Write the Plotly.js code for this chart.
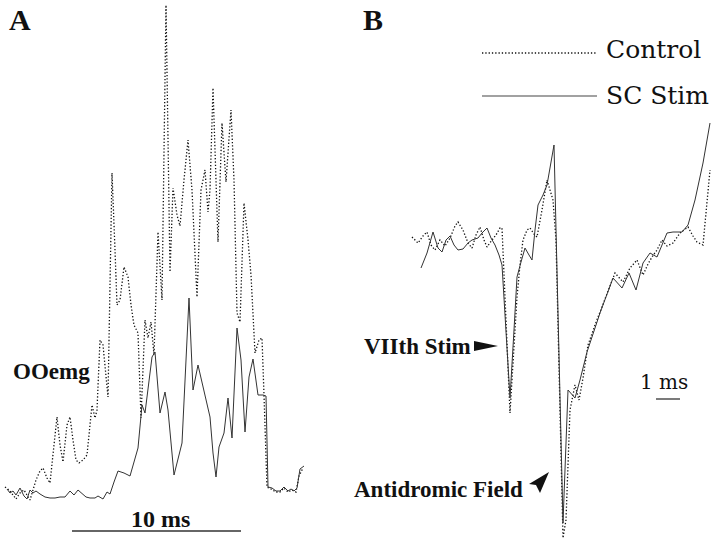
<!DOCTYPE html>
<html>
<head>
<meta charset="utf-8">
<script src="https://cdn.plot.ly/plotly-3.0.1.min.js"></script>
<style>
  html, body { margin: 0; padding: 0; background: #fff; }
  #chart { width: 720px; height: 545px; }
</style>
</head>
<body>
<div id="chart"></div>
<script>
// Panel A: OOemg, control (dotted) vs SC stim (solid)
// units: horizontal = figure px (16.8 px per ms), vertical = figure px (down is positive)
const ctrlA_t = [5, 9, 13, 16, 20, 24, 27, 30, 33, 36, 40, 43, 47, 50, 54, 57, 60, 63, 67, 70, 73, 76, 79, 83, 87, 90, 92, 95, 97, 100, 103, 108, 110, 112, 115, 117, 120, 124, 128, 131, 134, 138, 141, 145, 148, 151, 154, 158, 162, 166, 170, 173, 177, 180, 184, 188, 192, 197, 201, 205, 208, 210, 213, 218, 222, 226, 231, 234, 237, 240, 244, 248, 251, 255, 259, 262, 264, 267, 271, 276, 280, 284, 288, 292, 296, 299, 303];
const ctrlA_v = [487, 490, 495, 499, 493, 490, 495, 500, 490, 480, 471, 468, 478, 483, 445, 417, 445, 462, 425, 417, 440, 460, 463, 460, 455, 420, 405, 418, 410, 340, 345, 397, 300, 173, 250, 305, 300, 267, 277, 305, 325, 333, 418, 320, 338, 322, 355, 232, 300, 5, 272, 188, 215, 226, 180, 140, 190, 297, 190, 170, 212, 190, 88, 242, 123, 182, 110, 180, 313, 322, 203, 240, 275, 353, 340, 338, 395, 487, 489, 492, 492, 488, 492, 490, 492, 476, 468];

const stimA_t = [7, 10, 13, 16, 20, 24, 27, 30, 33, 36, 40, 45, 50, 55, 60, 65, 70, 74, 78, 82, 86, 90, 95, 98, 103, 107, 110, 114, 118, 124, 130, 138, 142, 145, 152, 155, 160, 165, 168, 174, 182, 189, 193, 198, 205, 210, 213, 216, 219, 224, 228, 232, 237, 241, 245, 249, 253, 258, 263, 266, 268, 272, 276, 280, 284, 288, 291, 294, 297, 300, 304];
const stimA_v = [489, 493, 491, 495, 488, 496, 499, 490, 493, 491, 494, 497, 498, 498, 497, 497, 491, 495, 490, 494, 497, 498, 498, 496, 499, 492, 494, 482, 471, 473, 476, 448, 405, 413, 357, 352, 413, 392, 410, 475, 443, 298, 390, 365, 397, 417, 453, 477, 447, 433, 398, 438, 328, 360, 432, 377, 359, 395, 395, 396, 487, 488, 491, 491, 487, 491, 489, 491, 488, 469, 466];

// Panel B: VIIth stim artefact and antidromic field (24 px per ms)
const ctrlB_t = [412, 418, 423, 427, 431, 435, 440, 445, 450, 455, 458, 463, 468, 472, 476, 480, 484, 487, 492, 496, 500, 502, 510, 517, 520, 523, 527, 530, 534, 537, 542, 547, 550, 553, 556, 563, 566, 570, 575, 579, 583, 588, 595, 602, 609, 615, 623, 630, 637, 643, 648, 652, 657, 662, 667, 673, 680, 688, 693, 697, 703, 706, 710];
const ctrlB_v = [237, 243, 236, 232, 245, 250, 240, 246, 238, 226, 222, 230, 243, 248, 235, 227, 240, 247, 240, 235, 228, 228, 413, 297, 265, 240, 230, 228, 234, 237, 210, 180, 190, 200, 240, 538, 520, 410, 385, 400, 378, 345, 325, 307, 290, 273, 282, 268, 260, 275, 264, 257, 250, 240, 246, 243, 233, 227, 236, 242, 245, 210, 170];

const stimB_t = [421, 427, 433, 438, 442, 446, 450, 454, 458, 463, 468, 472, 478, 482, 487, 491, 495, 499, 502, 510, 514, 517, 521, 525, 529, 532, 535, 538, 543, 547, 554, 563, 568, 575, 580, 587, 600, 613, 622, 629, 636, 643, 650, 657, 662, 667, 673, 682, 688, 695, 703, 710];
const stimB_v = [268, 253, 232, 248, 252, 240, 236, 245, 250, 249, 243, 240, 238, 233, 228, 238, 245, 255, 265, 398, 330, 277, 262, 248, 255, 260, 230, 205, 195, 185, 145, 523, 390, 398, 380, 352, 313, 278, 288, 273, 290, 263, 253, 257, 245, 233, 232, 232, 225, 200, 163, 123];

const dotLine = { color: '#111', width: 1.3, dash: '1.3px,2px' };
const solidLine = { color: '#333', width: 1 };

const traces = [
    { x: ctrlA_t, y: ctrlA_v, mode: 'lines', type: 'scatter', line: dotLine, name: 'Control' },
    { x: stimA_t, y: stimA_v, mode: 'lines', type: 'scatter', line: solidLine, name: 'SC Stim' },
    { x: ctrlB_t, y: ctrlB_v, mode: 'lines', type: 'scatter', line: dotLine, name: 'Control' },
    { x: stimB_t, y: stimB_v, mode: 'lines', type: 'scatter', line: solidLine, name: 'SC Stim' }
];

const serifBold = 'Liberation Serif';
const serifReg = 'DejaVu Serif';
function label(text, x, y, size, bold, anchor) {
    return {
        text: bold ? '<b>' + text + '</b>' : text, x: x, y: y, xref: 'x', yref: 'y',
        xanchor: anchor || 'left', yanchor: 'middle', showarrow: false,
        font: { family: bold ? serifBold : serifReg, size: size, color: '#111' }
    };
}

const layout = {
    width: 720, height: 545,
    margin: { t: 0, b: 0, l: 0, r: 0 },
    paper_bgcolor: '#ffffff', plot_bgcolor: '#ffffff',
    showlegend: false,
    font: { family: serifBold },
    xaxis: { range: [0, 720], visible: false, fixedrange: true },
    yaxis: { range: [545, 0], visible: false, fixedrange: true },
    shapes: [
        // legend samples
        { type: 'line', xref: 'x', yref: 'y', x0: 482, x1: 597, y0: 53, y1: 53, line: dotLine },
        { type: 'line', xref: 'x', yref: 'y', x0: 482, x1: 597, y0: 96, y1: 96, line: { color: '#444', width: 1.2 } },
        // scale bars
        { type: 'line', xref: 'x', yref: 'y', x0: 72, x1: 241, y0: 531, y1: 531, line: { color: '#333', width: 1.3 } },
        { type: 'line', xref: 'x', yref: 'y', x0: 656, x1: 680, y0: 399, y1: 399, line: { color: '#333', width: 1.3 } },
        // arrowheads
        { type: 'path', xref: 'x', yref: 'y', path: 'M 474 341 L 498 346 L 474 351 Z', fillcolor: '#111', line: { width: 0 } },
        { type: 'path', xref: 'x', yref: 'y', path: 'M 549 472 L 529 484 L 536 485 L 540 493 Z', fillcolor: '#111', line: { width: 0 } }
    ],
    annotations: [
        label('A', 7, 19, 30, true),
        label('B', 361, 19, 30, true),
        label('Control', 604, 49, 25, false),
        label('SC Stim', 604, 95, 25, false),
        label('OOemg', 11, 371, 23, true),
        label('10 ms', 160, 519, 24, true, 'center'),
        label('VIIth Stim', 362, 346, 23, true),
        label('1 ms', 664, 382, 20, false, 'center'),
        label('Antidromic Field', 525, 489, 23, true, 'right')
    ]
};

Plotly.newPlot('chart', traces, layout, { displayModeBar: false, staticPlot: true });
</script>
</body>
</html>
